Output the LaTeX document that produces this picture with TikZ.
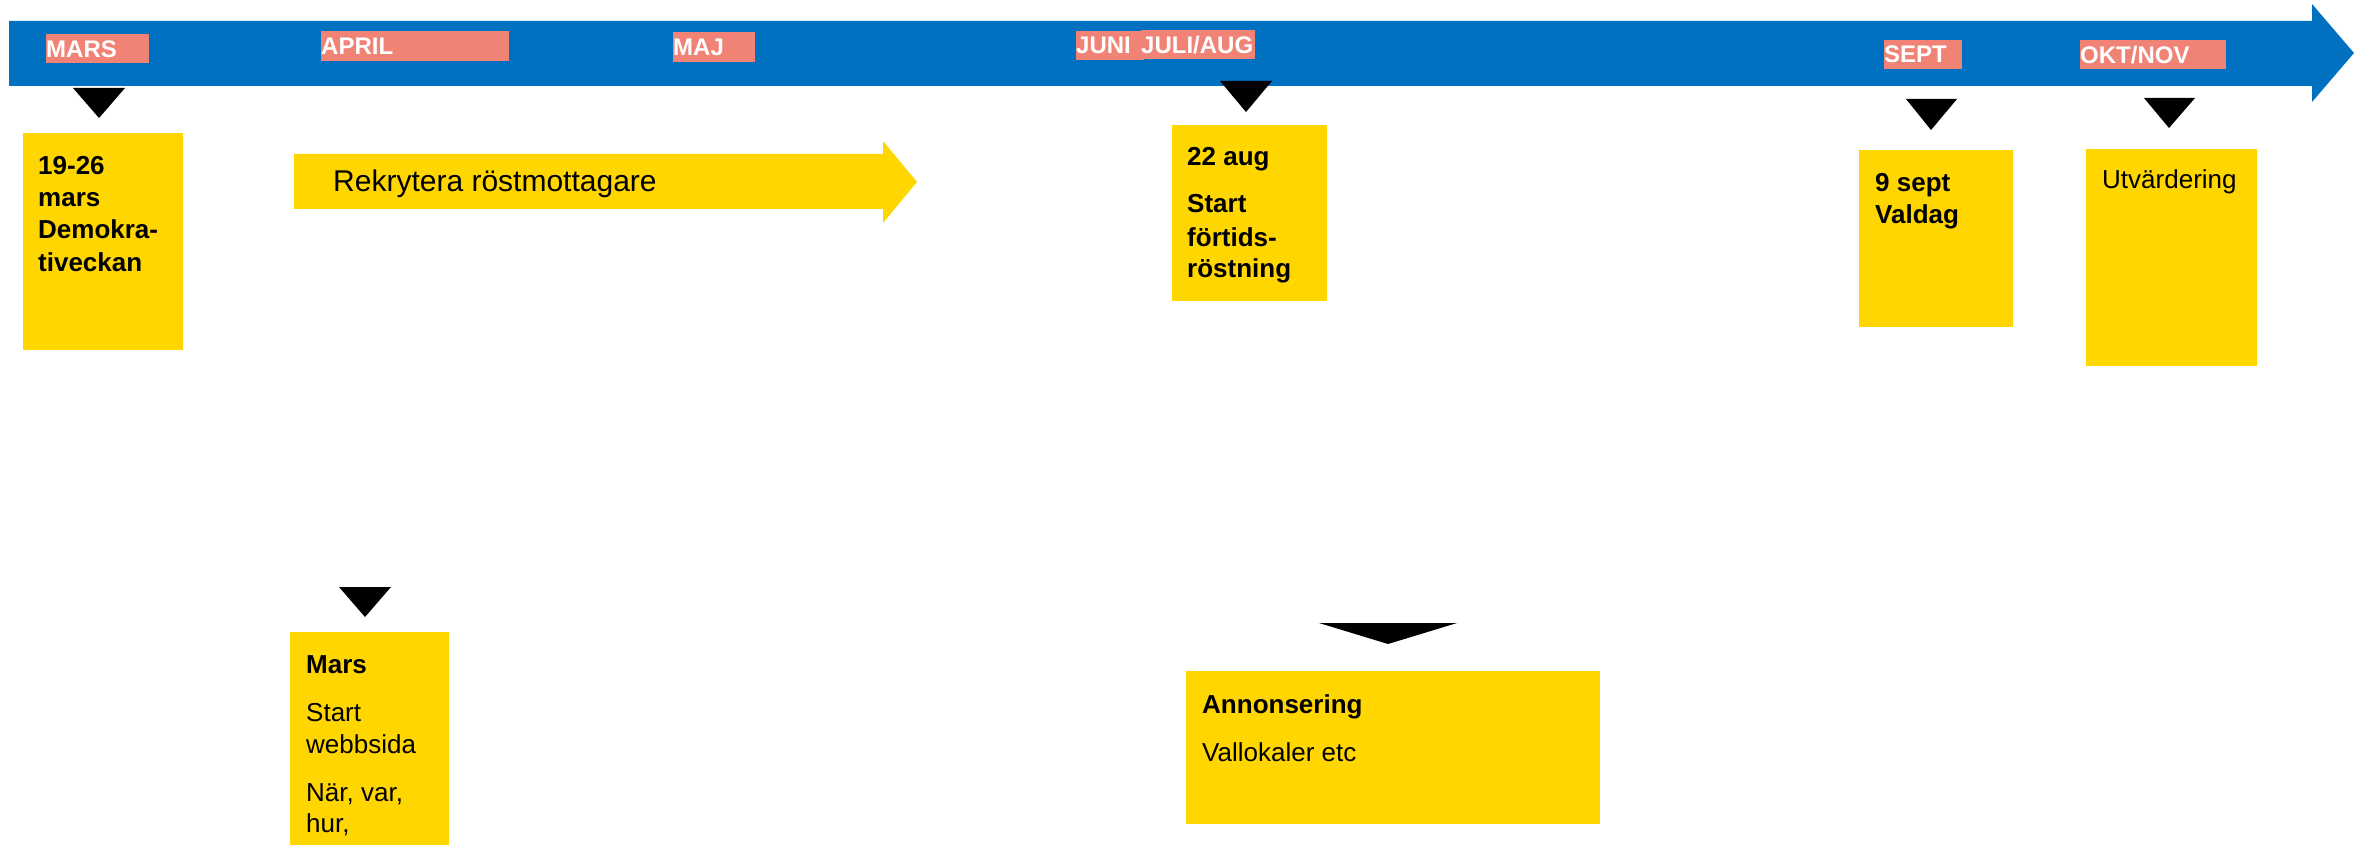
\documentclass[tikz,border=0pt]{standalone}
\usepackage{fontspec}
\setmainfont{Liberation Sans}
\definecolor{tlblue}{HTML}{0070C0}
\definecolor{salmon}{HTML}{F08375}
\definecolor{tlyellow}{HTML}{FFD600}
\begin{document}
\begin{tikzpicture}[x=1pt,y=-1pt,
  txt/.style={anchor=base west, inner sep=0pt, font=\fontsize{26}{32}\selectfont},
  btxt/.style={anchor=base west, inner sep=0pt, font=\fontsize{26}{32}\selectfont\bfseries},
  monthtxt/.style={anchor=base west, inner sep=0pt, text=white, font=\fontsize{24}{28}\selectfont\bfseries},
  monthbox/.style={fill=salmon, draw=none, inner sep=0pt, anchor=north west},
  ybox/.style={fill=tlyellow, draw=none, inner sep=0pt, anchor=north west},
  marker/.style={fill=black}]
\useasboundingbox (0,0) rectangle (2366,845);

% timeline arrow
\fill[tlblue] (9,21) -- (2312,21) -- (2312,4) -- (2354,53) -- (2312,102) -- (2312,86) -- (9,86) -- cycle;

% month labels
\node[monthbox, minimum width=103pt, minimum height=29pt] (mb1) at (46,34) {};
\node[monthtxt] (m1) at (46,58) {MARS};
\node[monthbox, minimum width=188pt, minimum height=30pt] (mb2) at (321,31) {};
\node[monthtxt] (m2) at (321,55) {APRIL};
\node[monthbox, minimum width=82pt, minimum height=30pt] (mb3) at (673,32) {};
\node[monthtxt] (m3) at (673,56) {MAJ};
\node[monthbox, minimum width=68pt, minimum height=29pt] (mb4) at (1076,31) {};
\node[monthbox, minimum width=114pt, minimum height=29pt] (mb5) at (1141,30) {};
\node[monthtxt] (m4) at (1076,54) {JUNI};
\node[monthtxt] (m5) at (1141,54) {JULI/AUG};
\node[monthbox, minimum width=78pt, minimum height=29pt] (mb6) at (1884,40) {};
\node[monthtxt] (m6) at (1884,63) {SEPT};
\node[monthbox, minimum width=146pt, minimum height=29pt] (mb7) at (2080,40) {};
\node[monthtxt] (m7) at (2080,64) {OKT/NOV};

% markers
\fill[marker] (73,88) -- (125,88) -- (99,118) -- cycle;
\fill[marker] (1220,81) -- (1272,81) -- (1246,112) -- cycle;
\fill[marker] (1906,99) -- (1957,99) -- (1931,130) -- cycle;
\fill[marker] (2144,98) -- (2195,98) -- (2169,128) -- cycle;
\fill[marker] (339,587) -- (391,587) -- (365,617) -- cycle;
\fill[marker] (1319,623) -- (1457,623) -- (1388,644) -- cycle;

% Rekrytera arrow
\fill[tlyellow] (294,154) -- (883,154) -- (883,141) -- (917,182) -- (883,223) -- (883,209) -- (294,209) -- cycle;
\node[anchor=base west, inner sep=0pt, font=\fontsize{30}{36}\selectfont] (rek) at (333,192) {Rekrytera röstmottagare};

% box 1
\node[ybox, minimum width=160pt, minimum height=217pt] (b1) at (23,133) {};
\node[btxt] (b1a) at (38,175) {19-26};
\node[btxt] (b1b) at (38,207) {mars};
\node[btxt] (b1c) at (38,239) {Demokra-};
\node[btxt] (b1d) at (38,271) {tiveckan};

% box 22 aug
\node[ybox, minimum width=155pt, minimum height=176pt] (b2) at (1172,125) {};
\node[btxt] (b2a) at (1187,166) {22 aug};
\node[btxt] (b2b) at (1187,213) {Start};
\node[btxt] (b2c) at (1187,246) {förtids-};
\node[btxt] (b2d) at (1187,277) {röstning};

% box 9 sept
\node[ybox, minimum width=154pt, minimum height=177pt] (b3) at (1859,150) {};
\node[btxt] (b3a) at (1875,192) {9 sept};
\node[btxt] (b3b) at (1875,223) {Valdag};

% box Utvärdering
\node[ybox, minimum width=171pt, minimum height=217pt] (b4) at (2086,149) {};
\node[txt] (b4a) at (2102,189) {Utvärdering};

% box Mars (bottom)
\node[ybox, minimum width=159pt, minimum height=213pt] (b5) at (290,632) {};
\node[btxt] (b5a) at (306,673) {Mars};
\node[txt] (b5b) at (306,721) {Start};
\node[txt] (b5c) at (306,753) {webbsida};
\node[txt] (b5d) at (306,801) {När, var,};
\node[txt] (b5e) at (306,832) {hur,};

% box Annonsering
\node[ybox, minimum width=414pt, minimum height=153pt] (b6) at (1186,671) {};
\node[btxt] (b6a) at (1202,713) {Annonsering};
\node[txt] (b6b) at (1202,761) {Vallokaler etc};
\end{tikzpicture}
\end{document}
